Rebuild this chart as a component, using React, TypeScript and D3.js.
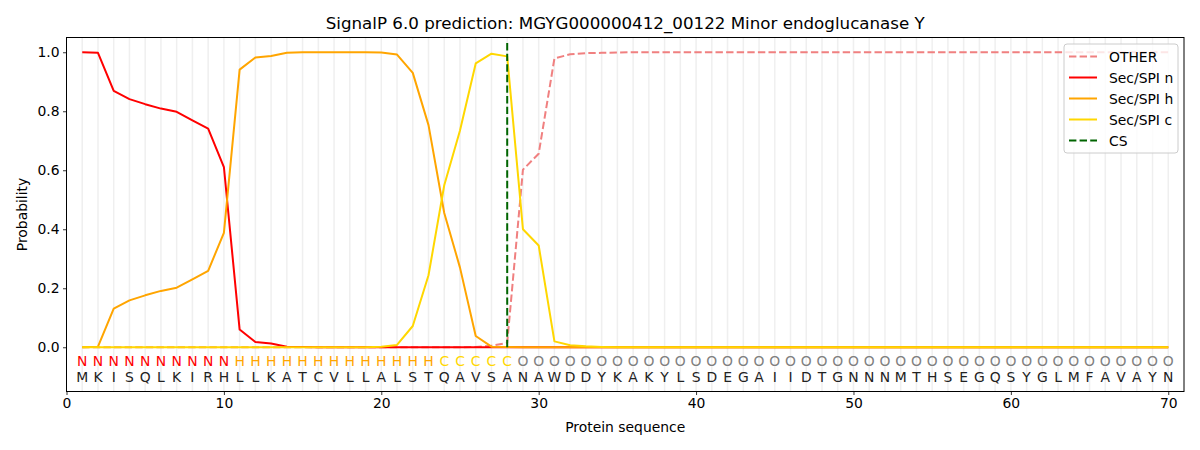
import React, { useEffect, useRef } from 'react';
import * as d3 from 'd3';

const title = 'SignalP 6.0 prediction: MGYG000000412_00122 Minor endoglucanase Y';
const sequence = 'MKISQLKIRHLLKATCVLLALSTQAVSANAWDDYKAKYLSDEGAIIDTGNNNMTHSEGQSYGLMFAVAYN'.split('');
const regions = 'NNNNNNNNNNHHHHHHHHHHHHHCCCCCOOOOOOOOOOOOOOOOOOOOOOOOOOOOOOOOOOOOOOOOOO'.split('');

// probabilities per residue (1..70)
const other = [
  0, 0, 0, 0, 0, 0, 0, 0, 0, 0,
  0, 0, 0, 0, 0, 0, 0, 0, 0, 0,
  0, 0, 0, 0, 0, 0.001, 0.005, 0.015, 0.602, 0.656,
  0.979, 0.993, 0.997, 0.998, 0.999, 1, 1, 1, 1, 1,
  1, 1, 1, 1, 1, 1, 1, 1, 1, 1,
  1, 1, 1, 1, 1, 1, 1, 1, 1, 1,
  1, 1, 1, 1, 1, 1, 1, 1, 1, 1,
];
const secN = [
  1.0, 0.998, 0.869, 0.841, 0.824, 0.809, 0.798, 0.769, 0.741, 0.611,
  0.06, 0.018, 0.0125, 0.002, 0.001, 0, 0, 0, 0, 0,
  0, 0, 0, 0, 0, 0, 0, 0, 0, 0,
  0, 0, 0, 0, 0, 0, 0, 0, 0, 0,
  0, 0, 0, 0, 0, 0, 0, 0, 0, 0,
  0, 0, 0, 0, 0, 0, 0, 0, 0, 0,
  0, 0, 0, 0, 0, 0, 0, 0, 0, 0,
];
const secH = [
  0, 0.002, 0.131, 0.159, 0.176, 0.191, 0.202, 0.23, 0.259, 0.388,
  0.941, 0.982, 0.987, 0.998, 1.0, 1.0, 1.0, 1.0, 1.0, 0.999,
  0.992, 0.93, 0.753, 0.455, 0.27, 0.038, 0.002, 0.001, 0, 0,
  0, 0, 0, 0, 0, 0, 0, 0, 0, 0,
  0, 0, 0, 0, 0, 0, 0, 0, 0, 0,
  0, 0, 0, 0, 0, 0, 0, 0, 0, 0,
  0, 0, 0, 0, 0, 0, 0, 0, 0, 0,
];
const secC = [
  0, 0, 0, 0, 0, 0, 0, 0, 0, 0,
  0, 0, 0, 0, 0, 0, 0, 0, 0, 0.002,
  0.008, 0.072, 0.244, 0.549, 0.735, 0.962, 0.995, 0.986, 0.4, 0.345,
  0.02, 0.007, 0.003, 0.001, 0, 0, 0, 0, 0, 0,
  0, 0, 0, 0, 0, 0, 0, 0, 0, 0,
  0, 0, 0, 0, 0, 0, 0, 0, 0, 0,
  0, 0, 0, 0, 0, 0, 0, 0, 0, 0,
];
const cleavageSite = 28;

const xTicks = [0, 10, 20, 30, 40, 50, 60, 70];
const yTicks = [0, 0.2, 0.4, 0.6, 0.8, 1.0];

const regionColor: Record<string, string> = { N: '#ff0000', H: '#ffa500', C: '#ffd700', O: '#808080' };

const series = [
  { name: 'OTHER', values: other, color: '#f08080', dash: '7.4,3.2' },
  { name: 'Sec/SPI n', values: secN, color: '#ff0000', dash: null },
  { name: 'Sec/SPI h', values: secH, color: '#ffa500', dash: null },
  { name: 'Sec/SPI c', values: secC, color: '#ffd700', dash: null },
];

const App: React.FC = () => {
  const svgRef = useRef<SVGSVGElement>(null);
  const width = 1200;
  const height = 450;
  const margin = { top: 37.5, right: 16, bottom: 58.5, left: 66.5 };

  useEffect(() => {
    if (!svgRef.current) return;
    document.body.style.margin = '0';
    const svg = d3.select(svgRef.current);
    svg.selectAll('*').remove();

    const font = 'DejaVu Sans, sans-serif';
    const x = d3.scaleLinear().domain([0, 71]).range([margin.left, width - margin.right]);
    const y = d3.scaleLinear().domain([-0.15, 1.05]).range([height - margin.bottom, margin.top]);
    const positions = sequence.map((_, i) => i + 1);

    svg.append('rect').attr('width', width).attr('height', height).attr('fill', '#fff');

    // vertical grid
    svg.append('g')
      .selectAll('line')
      .data(positions)
      .enter()
      .append('line')
      .attr('x1', (d) => x(d))
      .attr('x2', (d) => x(d))
      .attr('y1', y.range()[0])
      .attr('y2', y.range()[1])
      .attr('stroke', '#b0b0b0')
      .attr('stroke-opacity', 0.2)
      .attr('stroke-width', 1.5);

    // curves
    const line = d3.line<number>()
      .x((_, i) => x(i + 1))
      .y((d) => y(d));
    series.forEach((s) => {
      svg.append('path')
        .datum(s.values)
        .attr('d', line)
        .attr('fill', 'none')
        .attr('stroke', s.color)
        .attr('stroke-width', 2)
        .attr('stroke-linejoin', 'round')
        .attr('stroke-dasharray', s.dash);
    });

    // cleavage site
    svg.append('line')
      .attr('x1', x(cleavageSite))
      .attr('x2', x(cleavageSite))
      .attr('y1', y(0))
      .attr('y2', y(1.035))
      .attr('stroke', '#006400')
      .attr('stroke-width', 2)
      .attr('stroke-dasharray', '7.4,3.2');

    // sequence letters
    svg.append('g')
      .selectAll('text')
      .data(regions)
      .enter()
      .append('text')
      .attr('x', (_, i) => x(i + 1))
      .attr('y', 366)
      .attr('text-anchor', 'middle')
      .attr('font-family', font)
      .attr('font-size', 13.9)
      .attr('fill', (d) => regionColor[d])
      .text((d) => d);
    svg.append('g')
      .selectAll('text')
      .data(sequence)
      .enter()
      .append('text')
      .attr('x', (_, i) => x(i + 1))
      .attr('y', 382)
      .attr('text-anchor', 'middle')
      .attr('font-family', font)
      .attr('font-size', 13.9)
      .attr('fill', '#222')
      .text((d) => d);

    // axes
    const xAxis = svg.append('g')
      .attr('transform', `translate(0,${height - margin.bottom})`)
      .call(d3.axisBottom(x).tickValues(xTicks).tickFormat(d3.format('d')).tickSize(3.5).tickPadding(3.5));
    const yAxis = svg.append('g')
      .attr('transform', `translate(${margin.left},0)`)
      .call(d3.axisLeft(y).tickValues(yTicks).tickFormat(d3.format('.1f')).tickSize(3.5).tickPadding(3.5));
    [xAxis, yAxis].forEach((a) => {
      a.select('.domain').remove();
      a.selectAll('text').attr('font-family', font).attr('font-size', 13.9).attr('fill', '#000');
      a.selectAll('line').attr('stroke', '#000').attr('stroke-width', 0.8);
    });

    svg.append('rect')
      .attr('x', margin.left)
      .attr('y', margin.top)
      .attr('width', width - margin.left - margin.right)
      .attr('height', height - margin.top - margin.bottom)
      .attr('fill', 'none')
      .attr('stroke', '#000')
      .attr('stroke-width', 1);

    // titles
    svg.append('text')
      .attr('x', (margin.left + width - margin.right) / 2)
      .attr('y', 29)
      .attr('text-anchor', 'middle')
      .attr('font-family', font)
      .attr('font-size', 16.7)
      .text(title);
    svg.append('text')
      .attr('x', (margin.left + width - margin.right) / 2)
      .attr('y', 432)
      .attr('text-anchor', 'middle')
      .attr('font-family', font)
      .attr('font-size', 13.9)
      .text('Protein sequence');
    svg.append('text')
      .attr('transform', `translate(27,${(margin.top + height - margin.bottom) / 2}) rotate(-90)`)
      .attr('text-anchor', 'middle')
      .attr('font-family', font)
      .attr('font-size', 13.9)
      .text('Probability');

    // legend
    const legendItems = [
      ...series.map((s) => ({ name: s.name, color: s.color, dash: s.dash })),
      { name: 'CS', color: '#006400', dash: '7.4,3.2' },
    ];
    const lg = svg.append('g').attr('transform', 'translate(1064,44)');
    lg.append('rect')
      .attr('width', 114)
      .attr('height', 109)
      .attr('rx', 3)
      .attr('fill', '#fff')
      .attr('fill-opacity', 0.8)
      .attr('stroke', '#cccccc')
      .attr('stroke-width', 1);
    legendItems.forEach((item, i) => {
      const cy = 12.5 + i * 21;
      lg.append('line')
        .attr('x1', 5)
        .attr('x2', 33)
        .attr('y1', cy)
        .attr('y2', cy)
        .attr('stroke', item.color)
        .attr('stroke-width', 2)
        .attr('stroke-dasharray', item.dash);
      lg.append('text')
        .attr('x', 45)
        .attr('y', cy + 5)
        .attr('font-family', font)
        .attr('font-size', 13.9)
        .text(item.name);
    });
  }, []);

  return <svg ref={svgRef} width={width} height={height} style={{ display: 'block' }} />;
};

export default App;
